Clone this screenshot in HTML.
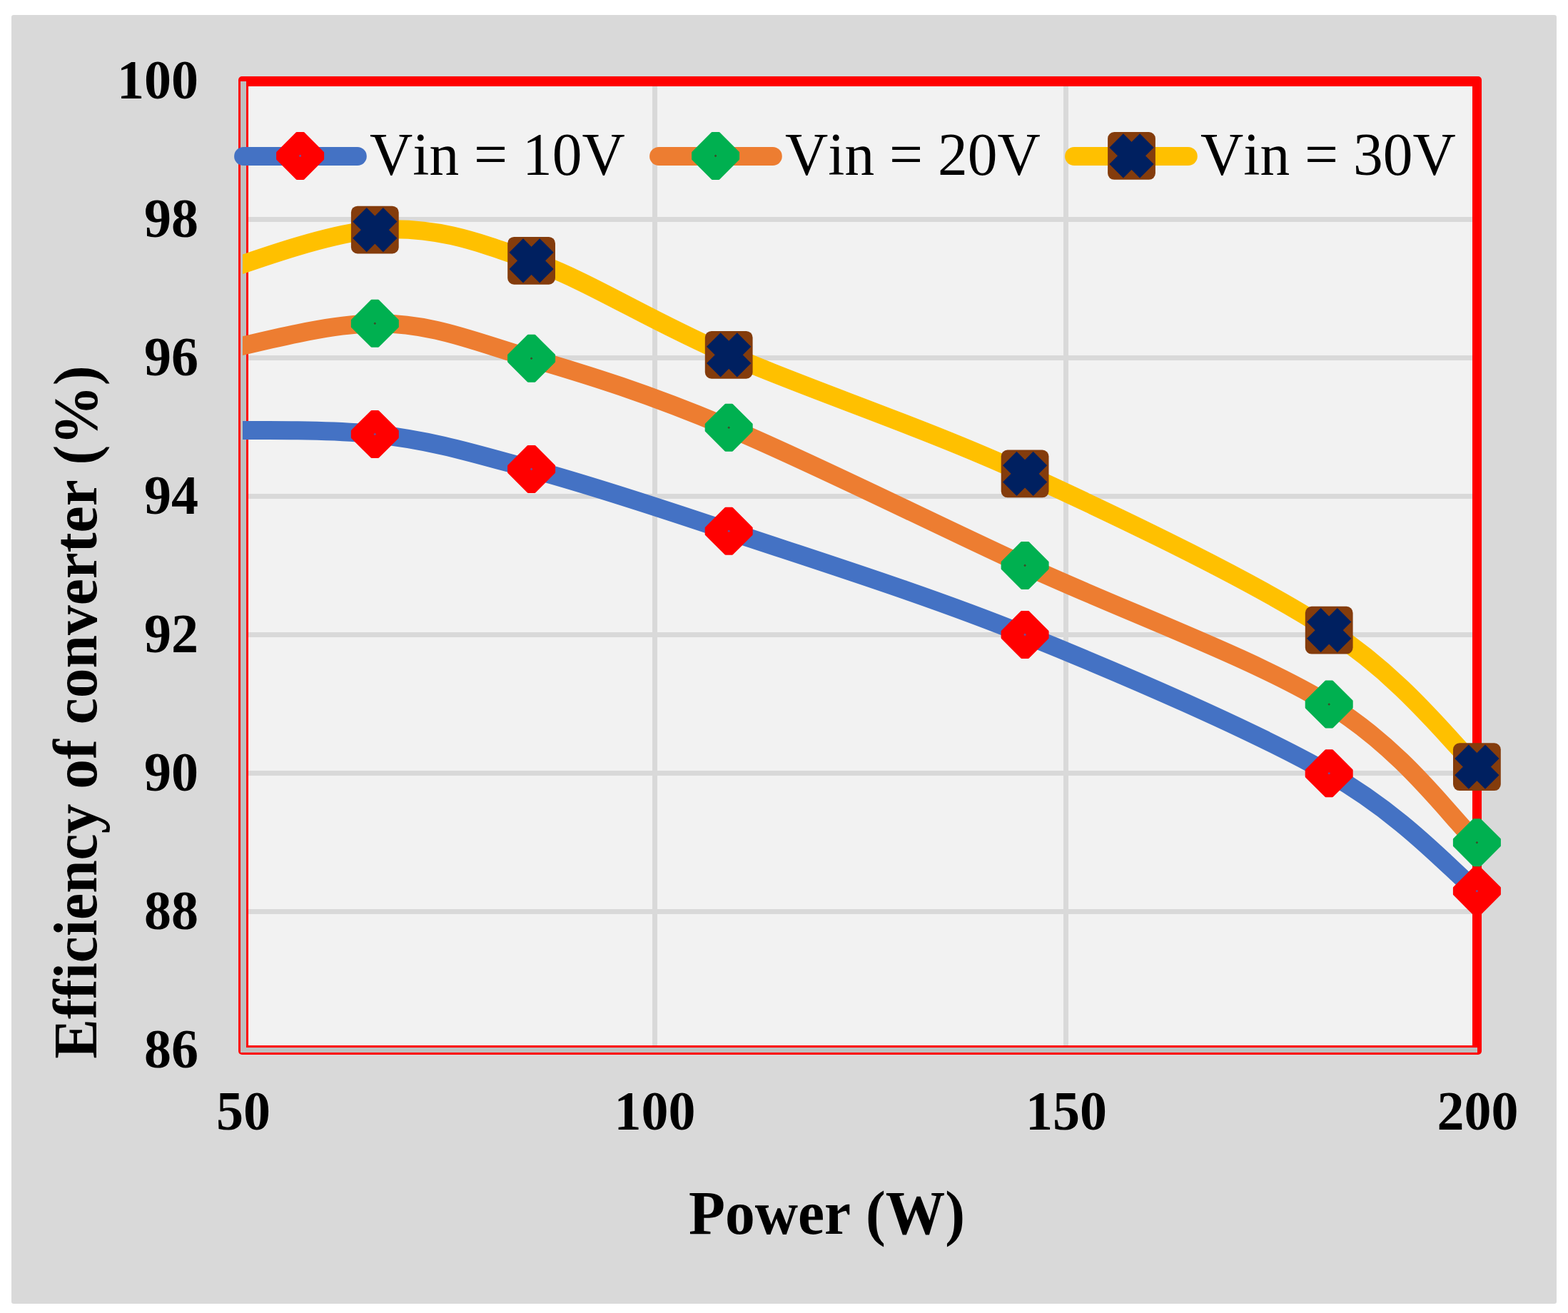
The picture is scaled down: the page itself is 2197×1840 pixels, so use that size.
<!DOCTYPE html><html><head><meta charset="utf-8"><title>Efficiency of converter</title><style>html,body{margin:0;padding:0;background:#fff;overflow:hidden}svg{display:block}</style></head><body>
<svg width="2197" height="1840" viewBox="0 0 2197 1840">
<rect width="2197" height="1840" fill="#ffffff"/>
<rect x="16" y="21" width="2165" height="1806" rx="3" fill="#d9d9d9"/>
<rect x="334" y="107" width="1742" height="1371" rx="5" fill="#ff0000"/>
<rect x="348" y="121" width="1715" height="1344" fill="#f2f2f2"/>
<rect x="348" y="1274" width="1715" height="7" fill="#d9d9d9"/>
<rect x="348" y="1080" width="1715" height="7" fill="#d9d9d9"/>
<rect x="348" y="886" width="1715" height="7" fill="#d9d9d9"/>
<rect x="348" y="692" width="1715" height="7" fill="#d9d9d9"/>
<rect x="348" y="498" width="1715" height="7" fill="#d9d9d9"/>
<rect x="348" y="304" width="1715" height="7" fill="#d9d9d9"/>
<rect x="914" y="121" width="7" height="1344" fill="#d9d9d9"/>
<rect x="1490" y="121" width="7" height="1344" fill="#d9d9d9"/>
<rect x="337" y="114" width="8" height="1361" fill="#bfbfbf"/>
<rect x="337" y="1468" width="1733" height="7" fill="#bfbfbf"/>
<defs><clipPath id="pc"><rect x="340" y="100" width="1731" height="1380"/></clipPath></defs>
<g clip-path="url(#pc)" fill="none" stroke-width="26" stroke-linecap="round" stroke-linejoin="round">
<path d="M254.2 399.5 C299.4 386.6 443.6 327.8 525.3 322.1 C607.0 316.4 662.0 336.1 744.6 365.3 C827.2 394.5 906.0 447.5 1021.2 497.3 C1136.5 547.1 1295.9 599.6 1436.1 663.9 C1576.3 728.2 1756.7 814.7 1862.2 883.2 C1967.8 951.7 2034.9 1042.8 2069.4 1074.7" stroke="#ffc000"/>
<path d="M254.2 505.0 C299.4 496.4 443.6 453.8 525.3 453.3 C607.0 452.8 662.0 477.9 744.6 502.2 C827.2 526.5 906.0 550.8 1021.2 599.2 C1136.5 647.6 1295.9 727.8 1436.1 792.4 C1576.3 857.0 1756.7 922.3 1862.2 987.0 C1967.8 1051.7 2034.9 1148.4 2069.4 1180.7" stroke="#ed7d31"/>
<path d="M254.2 603.5 C299.4 604.3 443.6 599.5 525.3 608.5 C607.0 617.5 662.0 634.8 744.6 657.4 C827.2 680.0 906.0 705.6 1021.2 744.3 C1136.5 783.0 1295.9 832.8 1436.1 889.4 C1576.3 946.0 1756.7 1023.9 1862.2 1083.8 C1967.8 1143.7 2034.9 1221.2 2069.4 1248.7" stroke="#4472c4"/>
</g>
<g transform="translate(525.3 322.1)"><rect x="-33.4" y="-33.4" width="66.8" height="66.8" rx="9" fill="#843c0c"/><rect x="-30.2" y="-13.8" width="60.4" height="27.6" fill="#002060" transform="rotate(45)"/><rect x="-30.2" y="-13.8" width="60.4" height="27.6" fill="#002060" transform="rotate(-45)"/></g>
<g transform="translate(744.6 365.3)"><rect x="-33.4" y="-33.4" width="66.8" height="66.8" rx="9" fill="#843c0c"/><rect x="-30.2" y="-13.8" width="60.4" height="27.6" fill="#002060" transform="rotate(45)"/><rect x="-30.2" y="-13.8" width="60.4" height="27.6" fill="#002060" transform="rotate(-45)"/></g>
<g transform="translate(1021.2 497.3)"><rect x="-33.4" y="-33.4" width="66.8" height="66.8" rx="9" fill="#843c0c"/><rect x="-30.2" y="-13.8" width="60.4" height="27.6" fill="#002060" transform="rotate(45)"/><rect x="-30.2" y="-13.8" width="60.4" height="27.6" fill="#002060" transform="rotate(-45)"/></g>
<g transform="translate(1436.1 663.9)"><rect x="-33.4" y="-33.4" width="66.8" height="66.8" rx="9" fill="#843c0c"/><rect x="-30.2" y="-13.8" width="60.4" height="27.6" fill="#002060" transform="rotate(45)"/><rect x="-30.2" y="-13.8" width="60.4" height="27.6" fill="#002060" transform="rotate(-45)"/></g>
<g transform="translate(1862.2 883.2)"><rect x="-33.4" y="-33.4" width="66.8" height="66.8" rx="9" fill="#843c0c"/><rect x="-30.2" y="-13.8" width="60.4" height="27.6" fill="#002060" transform="rotate(45)"/><rect x="-30.2" y="-13.8" width="60.4" height="27.6" fill="#002060" transform="rotate(-45)"/></g>
<g transform="translate(2069.4 1074.7)"><rect x="-33.4" y="-33.4" width="66.8" height="66.8" rx="9" fill="#843c0c"/><rect x="-30.2" y="-13.8" width="60.4" height="27.6" fill="#002060" transform="rotate(45)"/><rect x="-30.2" y="-13.8" width="60.4" height="27.6" fill="#002060" transform="rotate(-45)"/></g>
<path d="M520.7 421.3 L529.9 421.3 L557.3 448.7 L557.3 457.9 L529.9 485.3 L520.7 485.3 L493.3 457.9 L493.3 448.7Z" fill="#00b050" stroke="#00b050" stroke-width="3" stroke-linejoin="round"/><path d="M525.3 451.5l1.8 1.8l-1.8 1.8l-1.8 -1.8Z" fill="#3f4a26"/>
<path d="M740.0 470.2 L749.2 470.2 L776.6 497.6 L776.6 506.8 L749.2 534.2 L740.0 534.2 L712.6 506.8 L712.6 497.6Z" fill="#00b050" stroke="#00b050" stroke-width="3" stroke-linejoin="round"/><path d="M744.6 500.4l1.8 1.8l-1.8 1.8l-1.8 -1.8Z" fill="#3f4a26"/>
<path d="M1016.6 567.2 L1025.8 567.2 L1053.2 594.6 L1053.2 603.8 L1025.8 631.2 L1016.6 631.2 L989.2 603.8 L989.2 594.6Z" fill="#00b050" stroke="#00b050" stroke-width="3" stroke-linejoin="round"/><path d="M1021.2 597.4l1.8 1.8l-1.8 1.8l-1.8 -1.8Z" fill="#3f4a26"/>
<path d="M1431.5 760.4 L1440.7 760.4 L1468.1 787.8 L1468.1 797.0 L1440.7 824.4 L1431.5 824.4 L1404.1 797.0 L1404.1 787.8Z" fill="#00b050" stroke="#00b050" stroke-width="3" stroke-linejoin="round"/><path d="M1436.1 790.6l1.8 1.8l-1.8 1.8l-1.8 -1.8Z" fill="#3f4a26"/>
<path d="M1857.6 955.0 L1866.8 955.0 L1894.2 982.4 L1894.2 991.6 L1866.8 1019.0 L1857.6 1019.0 L1830.2 991.6 L1830.2 982.4Z" fill="#00b050" stroke="#00b050" stroke-width="3" stroke-linejoin="round"/><path d="M1862.2 985.2l1.8 1.8l-1.8 1.8l-1.8 -1.8Z" fill="#3f4a26"/>
<path d="M2064.8 1148.7 L2074.0 1148.7 L2101.4 1176.1 L2101.4 1185.3 L2074.0 1212.7 L2064.8 1212.7 L2037.4 1185.3 L2037.4 1176.1Z" fill="#00b050" stroke="#00b050" stroke-width="3" stroke-linejoin="round"/><path d="M2069.4 1178.9l1.8 1.8l-1.8 1.8l-1.8 -1.8Z" fill="#3f4a26"/>
<path d="M520.7 576.5 L529.9 576.5 L557.3 603.9 L557.3 613.1 L529.9 640.5 L520.7 640.5 L493.3 613.1 L493.3 603.9Z" fill="#ff0000" stroke="#ff0000" stroke-width="3" stroke-linejoin="round"/><path d="M525.3 606.7l1.8 1.8l-1.8 1.8l-1.8 -1.8Z" fill="#6a4fa0"/>
<path d="M740.0 625.4 L749.2 625.4 L776.6 652.8 L776.6 662.0 L749.2 689.4 L740.0 689.4 L712.6 662.0 L712.6 652.8Z" fill="#ff0000" stroke="#ff0000" stroke-width="3" stroke-linejoin="round"/><path d="M744.6 655.6l1.8 1.8l-1.8 1.8l-1.8 -1.8Z" fill="#6a4fa0"/>
<path d="M1016.6 712.3 L1025.8 712.3 L1053.2 739.7 L1053.2 748.9 L1025.8 776.3 L1016.6 776.3 L989.2 748.9 L989.2 739.7Z" fill="#ff0000" stroke="#ff0000" stroke-width="3" stroke-linejoin="round"/><path d="M1021.2 742.5l1.8 1.8l-1.8 1.8l-1.8 -1.8Z" fill="#6a4fa0"/>
<path d="M1431.5 857.4 L1440.7 857.4 L1468.1 884.8 L1468.1 894.0 L1440.7 921.4 L1431.5 921.4 L1404.1 894.0 L1404.1 884.8Z" fill="#ff0000" stroke="#ff0000" stroke-width="3" stroke-linejoin="round"/><path d="M1436.1 887.6l1.8 1.8l-1.8 1.8l-1.8 -1.8Z" fill="#6a4fa0"/>
<path d="M1857.6 1051.8 L1866.8 1051.8 L1894.2 1079.2 L1894.2 1088.4 L1866.8 1115.8 L1857.6 1115.8 L1830.2 1088.4 L1830.2 1079.2Z" fill="#ff0000" stroke="#ff0000" stroke-width="3" stroke-linejoin="round"/><path d="M1862.2 1082.0l1.8 1.8l-1.8 1.8l-1.8 -1.8Z" fill="#6a4fa0"/>
<path d="M2064.8 1216.7 L2074.0 1216.7 L2101.4 1244.1 L2101.4 1253.3 L2074.0 1280.7 L2064.8 1280.7 L2037.4 1253.3 L2037.4 1244.1Z" fill="#ff0000" stroke="#ff0000" stroke-width="3" stroke-linejoin="round"/><path d="M2069.4 1246.9l1.8 1.8l-1.8 1.8l-1.8 -1.8Z" fill="#6a4fa0"/>
<g stroke-width="26" stroke-linecap="round">
<line x1="341.1" y1="219.0" x2="500.8" y2="219.0" stroke="#4472c4"/>
<line x1="923.1" y1="219.0" x2="1082.8" y2="219.0" stroke="#ed7d31"/>
<line x1="1505.1" y1="219.0" x2="1664.8" y2="219.0" stroke="#ffc000"/>
</g>
<path d="M416.0 186.4 L425.2 186.4 L452.6 213.8 L452.6 223.0 L425.2 250.4 L416.0 250.4 L388.6 223.0 L388.6 213.8Z" fill="#ff0000" stroke="#ff0000" stroke-width="3" stroke-linejoin="round"/><path d="M420.6 216.6l1.8 1.8l-1.8 1.8l-1.8 -1.8Z" fill="#6a4fa0"/>
<path d="M998.0 186.4 L1007.2 186.4 L1034.6 213.8 L1034.6 223.0 L1007.2 250.4 L998.0 250.4 L970.6 223.0 L970.6 213.8Z" fill="#00b050" stroke="#00b050" stroke-width="3" stroke-linejoin="round"/><path d="M1002.6 216.6l1.8 1.8l-1.8 1.8l-1.8 -1.8Z" fill="#3f4a26"/>
<g transform="translate(1585.5 218.4)"><rect x="-33.4" y="-33.4" width="66.8" height="66.8" rx="9" fill="#843c0c"/><rect x="-30.2" y="-13.8" width="60.4" height="27.6" fill="#002060" transform="rotate(45)"/><rect x="-30.2" y="-13.8" width="60.4" height="27.6" fill="#002060" transform="rotate(-45)"/></g>
<text transform="translate(518.0 245) scale(1 1.025)" font-family="Liberation Serif, Times New Roman, serif" style="font-kerning:none" font-size="83.5" fill="#000">Vin = 10V</text>
<text transform="translate(1100.0 245) scale(1 1.025)" font-family="Liberation Serif, Times New Roman, serif" style="font-kerning:none" font-size="83.5" fill="#000">Vin = 20V</text>
<text transform="translate(1682.0 245) scale(1 1.025)" font-family="Liberation Serif, Times New Roman, serif" style="font-kerning:none" font-size="83.5" fill="#000">Vin = 30V</text>
<text transform="translate(278 1495.7) scale(1 1.016)" font-family="Liberation Serif, Times New Roman, serif" style="font-kerning:none" font-size="76" font-weight="bold" text-anchor="end" fill="#000">86</text>
<text transform="translate(278 1301.7) scale(1 1.016)" font-family="Liberation Serif, Times New Roman, serif" style="font-kerning:none" font-size="76" font-weight="bold" text-anchor="end" fill="#000">88</text>
<text transform="translate(278 1107.7) scale(1 1.016)" font-family="Liberation Serif, Times New Roman, serif" style="font-kerning:none" font-size="76" font-weight="bold" text-anchor="end" fill="#000">90</text>
<text transform="translate(278 913.7) scale(1 1.016)" font-family="Liberation Serif, Times New Roman, serif" style="font-kerning:none" font-size="76" font-weight="bold" text-anchor="end" fill="#000">92</text>
<text transform="translate(278 719.7) scale(1 1.016)" font-family="Liberation Serif, Times New Roman, serif" style="font-kerning:none" font-size="76" font-weight="bold" text-anchor="end" fill="#000">94</text>
<text transform="translate(278 525.7) scale(1 1.016)" font-family="Liberation Serif, Times New Roman, serif" style="font-kerning:none" font-size="76" font-weight="bold" text-anchor="end" fill="#000">96</text>
<text transform="translate(278 331.7) scale(1 1.016)" font-family="Liberation Serif, Times New Roman, serif" style="font-kerning:none" font-size="76" font-weight="bold" text-anchor="end" fill="#000">98</text>
<text transform="translate(278 137.7) scale(1 1.016)" font-family="Liberation Serif, Times New Roman, serif" style="font-kerning:none" font-size="76" font-weight="bold" text-anchor="end" fill="#000">100</text>
<text transform="translate(341.0 1583) scale(1 1.016)" font-family="Liberation Serif, Times New Roman, serif" style="font-kerning:none" font-size="76" font-weight="bold" text-anchor="middle" fill="#000">50</text>
<text transform="translate(917.5 1583) scale(1 1.016)" font-family="Liberation Serif, Times New Roman, serif" style="font-kerning:none" font-size="76" font-weight="bold" text-anchor="middle" fill="#000">100</text>
<text transform="translate(1494.0 1583) scale(1 1.016)" font-family="Liberation Serif, Times New Roman, serif" style="font-kerning:none" font-size="76" font-weight="bold" text-anchor="middle" fill="#000">150</text>
<text transform="translate(2070.5 1583) scale(1 1.016)" font-family="Liberation Serif, Times New Roman, serif" style="font-kerning:none" font-size="76" font-weight="bold" text-anchor="middle" fill="#000">200</text>
<text transform="translate(1158.5 1729) scale(1 1.03)" font-family="Liberation Serif, Times New Roman, serif" style="font-kerning:none" font-size="83.5" font-weight="bold" text-anchor="middle" fill="#000">Power (W)</text>
<text transform="translate(135 998) rotate(-90) scale(1 1.027)" font-family="Liberation Serif, Times New Roman, serif" style="font-kerning:none" font-size="83.5" font-weight="bold" text-anchor="middle" fill="#000">Efficiency of converter (%)</text>
</svg></body></html>
